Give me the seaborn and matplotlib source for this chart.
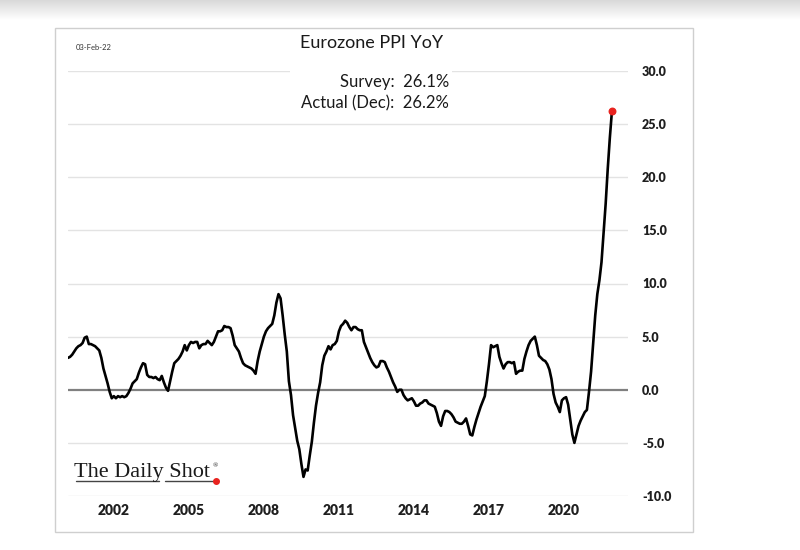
import numpy as np
import pandas as pd
import matplotlib
matplotlib.use("Agg")
import matplotlib.pyplot as plt
from matplotlib.patches import Rectangle
from matplotlib.lines import Line2D
import seaborn as sns

# ---- data: Eurozone PPI YoY (%), monthly, Mar-2000 .. Dec-2021 ----
start_month = "2000-03-01"
end_month = "2021-12-01"
ppi_2000 = [3.0, 3.1, 3.3, 3.6, 3.9, 4.1, 4.2, 4.4, 4.9, 5.0]
ppi_2001 = [4.3, 4.3, 4.2, 4.1, 3.9, 3.7, 3.0, 2.0, 1.3, 0.6, -0.2, -0.8]
ppi_2002 = [-0.6, -0.8, -0.6, -0.7, -0.6, -0.7, -0.6, -0.3, 0.1, 0.6, 0.8, 1.0]
ppi_2003 = [1.6, 2.1, 2.5, 2.4, 1.4, 1.2, 1.2, 1.1, 1.2, 1.0, 0.9, 1.3]
ppi_2004 = [0.7, 0.2, -0.1, 0.8, 1.7, 2.5, 2.7, 2.9, 3.2, 3.6, 4.2, 3.7]
ppi_2005 = [4.2, 4.5, 4.4, 4.5, 4.5, 3.9, 4.2, 4.3, 4.3, 4.6, 4.4, 4.2]
ppi_2006 = [4.5, 5.0, 5.5, 5.5, 5.6, 6.0, 5.9, 5.9, 5.8, 5.1, 4.2, 3.9]
ppi_2007 = [3.6, 3.0, 2.5, 2.3, 2.2, 2.1, 2.0, 1.8, 1.5, 2.7, 3.6, 4.3]
ppi_2008 = [5.0, 5.5, 5.8, 6.0, 6.2, 7.0, 8.2, 9.0, 8.6, 7.0, 5.2, 3.6]
ppi_2009 = [0.8, -0.5, -2.4, -3.6, -4.8, -5.6, -7.0, -8.2, -7.5, -7.6, -6.2, -4.9]
ppi_2010 = [-3.1, -1.5, -0.3, 0.7, 2.3, 3.2, 3.6, 4.1, 3.8, 4.2, 4.3, 4.6]
ppi_2011 = [5.5, 6.0, 6.2, 6.5, 6.3, 5.9, 5.6, 5.9, 5.9, 5.7, 5.6, 5.6]
ppi_2012 = [4.5, 4.0, 3.5, 3.0, 2.6, 2.3, 2.1, 2.2, 2.7, 2.7, 2.6, 2.1]
ppi_2013 = [1.7, 1.2, 0.7, 0.3, -0.2, 0.0, 0.0, -0.5, -0.8, -1.0, -0.9, -0.8]
ppi_2014 = [-1.1, -1.5, -1.5, -1.3, -1.2, -1.0, -1.0, -1.3, -1.4, -1.5, -1.6, -2.2]
ppi_2015 = [-3.0, -3.4, -2.5, -2.0, -2.0, -2.1, -2.3, -2.6, -3.0, -3.1, -3.2, -3.2]
ppi_2016 = [-3.0, -2.7, -3.4, -4.2, -4.3, -3.5, -2.8, -2.2, -1.6, -1.1, -0.6, 0.8]
ppi_2017 = [2.4, 4.2, 4.0, 4.1, 4.2, 3.1, 2.5, 2.0, 2.4, 2.6, 2.6, 2.5]
ppi_2018 = [2.6, 1.5, 1.7, 1.8, 1.8, 2.9, 3.6, 4.2, 4.6, 4.8, 5.0, 4.2]
ppi_2019 = [3.2, 3.0, 2.8, 2.7, 2.4, 1.9, 1.0, -0.4, -1.2, -1.6, -2.1, -1.0]
ppi_2020 = [-0.8, -0.7, -1.4, -2.8, -4.2, -5.0, -4.2, -3.4, -2.9, -2.5, -2.1, -1.9]
ppi_2021 = [-0.2, 1.7, 4.3, 7.0, 9.0, 10.3, 12.0, 14.8, 17.5, 20.8, 23.7, 26.2]

x_ticks = [2002, 2005, 2008, 2011, 2014, 2017, 2020]
y_ticks = [-10, -5, 0, 5, 10, 15, 20, 25, 30]

title = "Eurozone PPI YoY"
date_label = "03-Feb-22"
survey_text = "Survey:  26.1%"
actual_text = "Actual (Dec):  26.2%"

values = (ppi_2000 + ppi_2001 + ppi_2002 + ppi_2003 + ppi_2004 + ppi_2005 +
          ppi_2006 + ppi_2007 + ppi_2008 + ppi_2009 + ppi_2010 + ppi_2011 +
          ppi_2012 + ppi_2013 + ppi_2014 + ppi_2015 + ppi_2016 + ppi_2017 +
          ppi_2018 + ppi_2019 + ppi_2020 + ppi_2021)
dates = pd.date_range(start_month, end_month, freq="MS")
df = pd.DataFrame({"year": dates.year + (dates.month - 1) / 12.0,
                   "ppi": values})

# ---- figure ----
sns.set_style("white")
plt.rcParams["font.family"] = ["Lato", "DejaVu Sans"]

W, H = 800, 550
fig = plt.figure(figsize=(8, 5.5), dpi=100)

def fx(px):
    return px / W

def fy(py):
    return 1 - py / H

# top gray gradient band
band = fig.add_axes([0, fy(20), 1, 20 / H])
grad = np.linspace(0, 1, 50).reshape(-1, 1)
band.imshow(grad, aspect="auto", cmap=matplotlib.colors.LinearSegmentedColormap.from_list(
    "g", ["#d9d9d9", "#ffffff"]), extent=[0, 1, 0, 1], origin="upper")
band.axis("off")

# outer frame
fig.patches.append(Rectangle((fx(55), fy(532)), fx(693) - fx(55), fy(28) - fy(532),
                             transform=fig.transFigure, fill=False,
                             edgecolor="#cfcfcf", lw=1.0, zorder=0))

ax = fig.add_axes([fx(68), fy(496), fx(628) - fx(68), fy(71) - fy(496)])
ax.set_facecolor("none")

for yv in y_ticks:
    if yv == 0:
        continue
    ax.axhline(yv, color="#e3e3e3", lw=1.0, zorder=0.5)
ax.axhline(0, color="#808080", lw=1.6, zorder=1)

sns.lineplot(data=df, x="year", y="ppi", ax=ax, color="black", lw=1.9, zorder=3)
last = df.iloc[-1]
ax.scatter([last["year"]], [last["ppi"]], s=22, color="#e8231f", zorder=4)

ax.set_xlim(df["year"].iloc[0], 2022.56)
ax.set_ylim(-10, 30)
ax.set_xlabel("")
ax.set_ylabel("")
for s in ax.spines.values():
    s.set_visible(False)

ax.yaxis.tick_right()
ax.set_yticks(y_ticks)
ax.set_yticklabels([f"{v:.1f}" for v in y_ticks], fontsize=9, fontweight="heavy",
                   color="#1f1f1f")
ax.tick_params(axis="y", length=0, pad=10)

ax.set_xticks(x_ticks)
ax.set_xticklabels([str(v) for v in x_ticks], fontsize=10, fontweight="heavy",
                   color="#1f1f1f")
ax.tick_params(axis="x", direction="in", length=4, width=1, color="#a0a0a0", pad=6)

# white box behind the title texts (cuts the top gridline)
fig.patches.append(Rectangle((fx(290), fy(115)), fx(452) - fx(290), fy(30) - fy(115),
                             transform=fig.transFigure, facecolor="white",
                             edgecolor="none", zorder=5))

fig.text(fx(372), fy(43), title, ha="center", va="center", fontsize=13,
         color="#1a1a1a", zorder=6)
fig.text(fx(449), fy(82), survey_text, ha="right", va="center", fontsize=12,
         color="#1a1a1a", zorder=6)
fig.text(fx(449), fy(103), actual_text, ha="right", va="center", fontsize=12,
         color="#1a1a1a", zorder=6)
fig.text(fx(76), fy(48), date_label, ha="left", va="center", fontsize=5.5,
         color="#333333", zorder=6)

# logo
fig.text(fx(74), fy(477), "The Daily Shot", ha="left", va="baseline", fontsize=16,
         family=["Liberation Serif", "DejaVu Serif"], color="#1a1a1a", zorder=6)
fig.text(fx(213), fy(467), "®", ha="left", va="baseline", fontsize=5,
         family=["Liberation Serif", "DejaVu Serif"], color="#1a1a1a", zorder=6)
fig.lines.append(Line2D([fx(76), fx(159)], [fy(481), fy(481)], transform=fig.transFigure,
                        color="#444444", lw=1.0))
fig.lines.append(Line2D([fx(165), fx(214)], [fy(481), fy(481)], transform=fig.transFigure,
                        color="#444444", lw=1.0))
fig.lines.append(Line2D([fx(216)], [fy(481)], transform=fig.transFigure, marker="o",
                        markersize=4, color="#e8231f", lw=0))

fig.savefig("out.png", dpi=100)
